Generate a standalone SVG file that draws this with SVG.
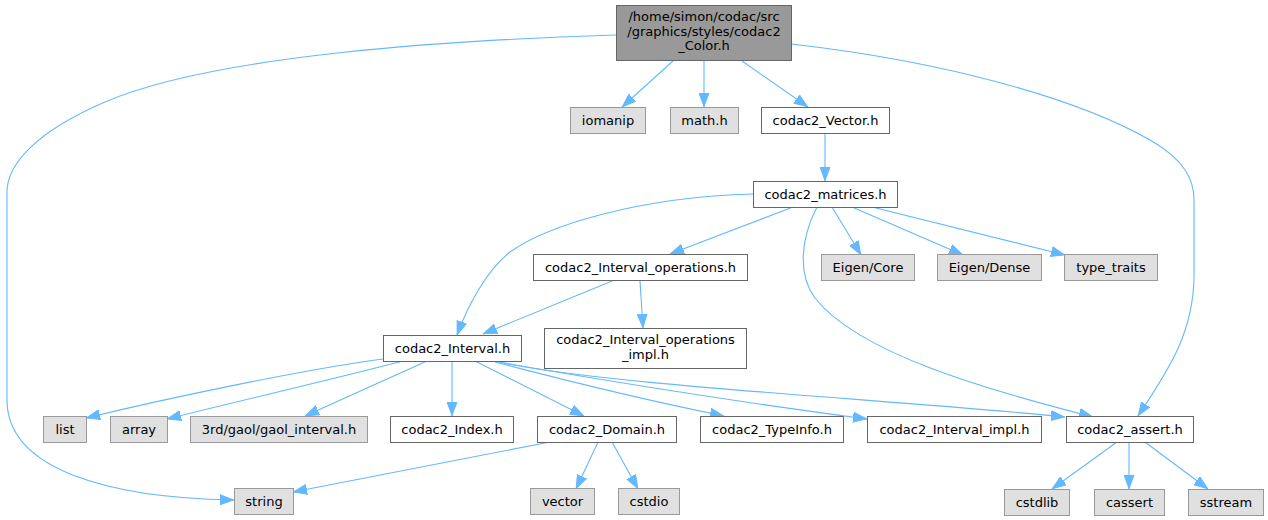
<svg xmlns="http://www.w3.org/2000/svg" width="1268" height="520" viewBox="0 0 1268 520">
<style>
.e{fill:none;stroke:#63b8ff;stroke-width:1.1;marker-end:url(#ah)}
.g rect{fill:#e0e0e0;stroke:#999999}
.w rect{fill:#ffffff;stroke:#666666}
.r rect{fill:#999999;stroke:#666666}
text{font-family:"DejaVu Sans",sans-serif;font-size:13px;fill:#000;text-anchor:middle}
</style>
<defs>
<marker id="ah" markerUnits="userSpaceOnUse" markerWidth="14" markerHeight="11" refX="14" refY="5.5" orient="auto" viewBox="0 0 14 11">
<path d="M0,0.5 L13.5,5.5 L0,10.5 z" fill="#63b8ff" stroke="#63b8ff" stroke-width="1"/>
</marker>
</defs>
<rect width="1268" height="520" fill="#ffffff"/>
<g id="edges">
<path class="e" d="M673,61 L622,107"/>
<path class="e" d="M704,61 L704,107"/>
<path class="e" d="M742,61 L808,107"/>
<path class="e" d="M616,35 C450,40 215,55 105,102 C35,132 7,165 7,192 L7,400 C7,470 110,498 234,500"/>
<path class="e" d="M791,44 C950,62 1080,100 1150,140 C1185,160 1194,180 1194,200 L1194,275 C1194,335 1165,375 1138,416"/>
<path class="e" d="M825,133 L825,181"/>
<path class="e" d="M753,194 C640,197 548,225 510,252 C487,270 468,305 457,335"/>
<path class="e" d="M793,207 L670,254"/>
<path class="e" d="M832,207 L861,255"/>
<path class="e" d="M852,207 L963,255"/>
<path class="e" d="M872,207 L1065,255"/>
<path class="e" d="M817,207 C800,240 798,275 815,298 C860,355 990,390 1093,417"/>
<path class="e" d="M612,281 L483,334"/>
<path class="e" d="M640,281 L643,328"/>
<path class="e" d="M383,359 C300,370 160,400 86,418"/>
<path class="e" d="M403,361 C330,380 230,403 167,419"/>
<path class="e" d="M427,361 L305,416"/>
<path class="e" d="M452,361 L452,416"/>
<path class="e" d="M475,361 L584,416"/>
<path class="e" d="M495,362 Q620,395 724,416"/>
<path class="e" d="M498,362 Q700,397 867,419"/>
<path class="e" d="M500,362 C600,385 900,400 1065,417"/>
<path class="e" d="M550,442 L293,492"/>
<path class="e" d="M598,442 L576,489"/>
<path class="e" d="M612,442 L638,489"/>
<path class="e" d="M1117,442 L1052,489"/>
<path class="e" d="M1129,442 L1129,489"/>
<path class="e" d="M1145,442 L1208,489"/>
</g>
<g id="root" class="r"><rect x="616.5" y="5.5" width="175" height="55"/><text x="704" y="21">/home/simon/codac/src</text><text x="704" y="35.5">/graphics/styles/codac2</text><text x="704" y="50">_Color.h</text></g>
<g id="iomanip" class="g"><rect x="570.5" y="107.5" width="75" height="26"/><text x="608" y="124.5">iomanip</text></g>
<g id="math" class="g"><rect x="670.5" y="107.5" width="68" height="26"/><text x="704.5" y="124.5">math.h</text></g>
<g id="vector_h" class="w"><rect x="761.5" y="107.5" width="128" height="26"/><text x="825.5" y="124.5">codac2_Vector.h</text></g>
<g id="matrices" class="w"><rect x="753.5" y="181.5" width="144" height="26"/><text x="825.5" y="198.5">codac2_matrices.h</text></g>
<g id="ops" class="w"><rect x="533.5" y="254.5" width="214" height="26"/><text x="640.5" y="271.5">codac2_Interval_operations.h</text></g>
<g id="eigencore" class="g"><rect x="821.5" y="254.5" width="93" height="26"/><text x="868" y="271.5">Eigen/Core</text></g>
<g id="eigendense" class="g"><rect x="937.5" y="254.5" width="104" height="26"/><text x="989.5" y="271.5">Eigen/Dense</text></g>
<g id="typetraits" class="g"><rect x="1064.5" y="254.5" width="93" height="26"/><text x="1111" y="271.5">type_traits</text></g>
<g id="opsimpl" class="w"><rect x="544.5" y="328.5" width="202" height="40"/><text x="645.5" y="344">codac2_Interval_operations</text><text x="645.5" y="358.5">_impl.h</text></g>
<g id="interval" class="w"><rect x="383.5" y="335.5" width="138" height="26"/><text x="452.5" y="352.5">codac2_Interval.h</text></g>
<g id="list" class="g"><rect x="43.5" y="416.5" width="43" height="26"/><text x="65" y="433.5">list</text></g>
<g id="array" class="g"><rect x="110.5" y="416.5" width="57" height="26"/><text x="139" y="433.5">array</text></g>
<g id="gaol" class="g"><rect x="190.5" y="416.5" width="177" height="26"/><text x="279" y="433.5">3rd/gaol/gaol_interval.h</text></g>
<g id="index" class="w"><rect x="390.5" y="416.5" width="123" height="26"/><text x="452" y="433.5">codac2_Index.h</text></g>
<g id="domain" class="w"><rect x="537.5" y="416.5" width="139" height="26"/><text x="607" y="433.5">codac2_Domain.h</text></g>
<g id="typeinfo" class="w"><rect x="700.5" y="416.5" width="143" height="26"/><text x="772" y="433.5">codac2_TypeInfo.h</text></g>
<g id="intervalimpl" class="w"><rect x="867.5" y="416.5" width="174" height="26"/><text x="954.5" y="433.5">codac2_Interval_impl.h</text></g>
<g id="assert" class="w"><rect x="1066.5" y="416.5" width="127" height="26"/><text x="1130" y="433.5">codac2_assert.h</text></g>
<g id="string" class="g"><rect x="234.5" y="488.5" width="59" height="26"/><text x="264" y="505.5">string</text></g>
<g id="vector" class="g"><rect x="530.5" y="488.5" width="64" height="26"/><text x="562.5" y="505.5">vector</text></g>
<g id="cstdio" class="g"><rect x="618.5" y="488.5" width="61" height="26"/><text x="649" y="505.5">cstdio</text></g>
<g id="cstdlib" class="g"><rect x="1004.5" y="489.5" width="65" height="26"/><text x="1037" y="506.5">cstdlib</text></g>
<g id="cassert" class="g"><rect x="1094.5" y="489.5" width="70" height="26"/><text x="1129.5" y="506.5">cassert</text></g>
<g id="sstream" class="g"><rect x="1188.5" y="489.5" width="75" height="26"/><text x="1226" y="506.5">sstream</text></g>
</svg>
